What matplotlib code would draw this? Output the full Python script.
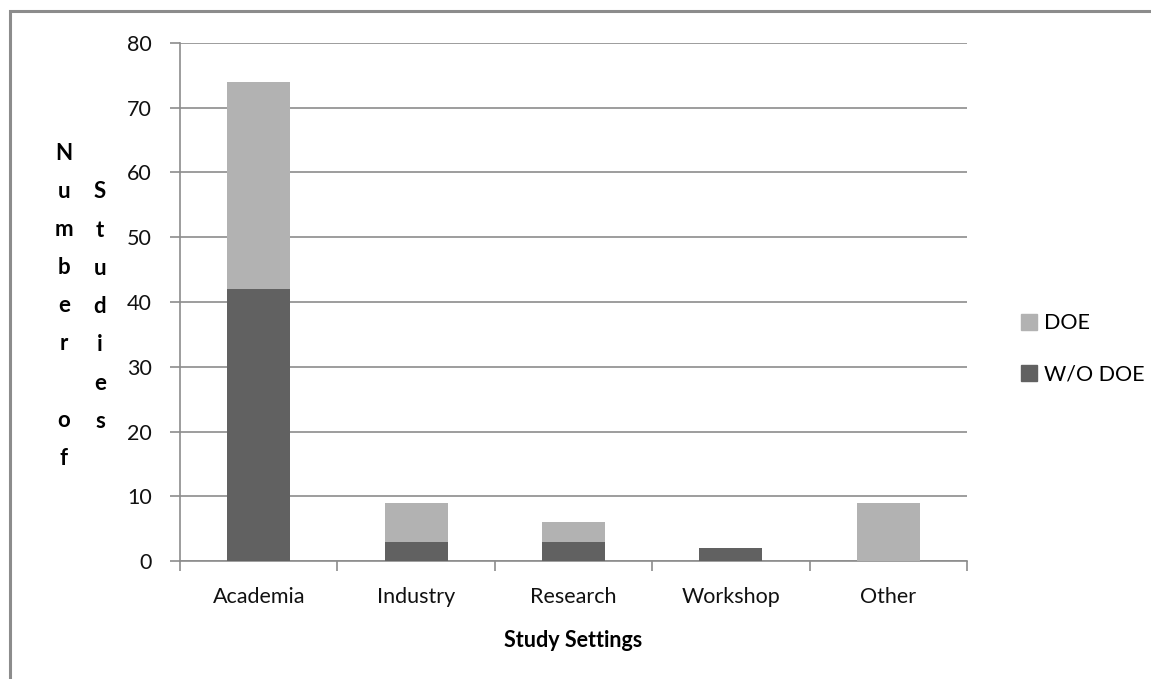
import matplotlib
matplotlib.use('Agg')
import matplotlib.pyplot as plt
import numpy as np
from matplotlib.patches import Patch, Rectangle

# Study settings data
categories = ['Academia', 'Industry', 'Research', 'Workshop', 'Other']
without_doe = [42, 3, 3, 2, 0]
with_doe = [32, 6, 3, 0, 9]

light = '#b2b2b2'
dark = '#616161'
grid_gray = '#8c8c8c'

plt.rcParams['font.family'] = ['Lato', 'DejaVu Sans']
plt.rcParams['font.size'] = 15.5

W, H = 1151, 679
fig = plt.figure(figsize=(W / 100, H / 100), dpi=100)
ax = fig.add_axes([180 / W, 1 - 561 / H, (967 - 180) / W, (561 - 43) / H])

x = np.arange(len(categories))
ax.bar(x, without_doe, width=0.4, color=dark, zorder=3)
ax.bar(x, with_doe, width=0.4, bottom=without_doe, color=light, zorder=3)

ax.set_xlim(-0.5, len(categories) - 0.5)
ax.set_ylim(0, 80)
ax.set_yticks(np.arange(0, 81, 10))
ax.yaxis.grid(True, color=grid_gray, linewidth=1.2, zorder=0)

# category labels centred, tick marks on the boundaries
ax.set_xticks(x)
ax.set_xticklabels(categories)
ax.set_xticks(np.arange(-0.5, len(categories)), minor=True)
ax.tick_params(axis='x', which='major', length=0, pad=19, colors='#111111')
ax.tick_params(axis='x', which='minor', length=7.2, width=1.2, color=grid_gray)
ax.tick_params(axis='y', length=7.2, width=1.2, color=grid_gray, pad=13, labelcolor='#111111')

for side in ['top', 'right']:
    ax.spines[side].set_visible(False)
for side in ['left', 'bottom']:
    ax.spines[side].set_color(grid_gray)
    ax.spines[side].set_linewidth(1.2)

ax.set_xlabel('Study Settings', fontweight='bold', labelpad=16)

# y label written as stacked letters in two columns
col1 = 'Number of'
col2 = 'Studies'
step = 38.2
for i, ch in enumerate(col1):
    if ch != ' ':
        fig.text(64 / W, 1 - (153 + i * step) / H, ch, ha='center', va='center',
                 fontweight='bold', fontsize=16)
for i, ch in enumerate(col2):
    fig.text(100 / W, 1 - (192 + i * step) / H, ch, ha='center', va='center',
             fontweight='bold', fontsize=16)

handles = [Patch(color=light, label='DOE'), Patch(color=dark, label='W/O DOE')]
fig.legend(handles=handles, loc='center left', bbox_to_anchor=(1010 / W, 1 - 349 / H),
           frameon=False, borderpad=0, handlelength=0.75, handleheight=0.75,
           handletextpad=0.35, labelspacing=1.45)

# outer chart border, running off the right and bottom edges
fig.add_artist(Rectangle((10 / W, -0.2), 1.5, 1.2 - 11 / H, transform=fig.transFigure,
                         fill=False, edgecolor='#8c8c8c', linewidth=2.2))

fig.savefig('out.png', dpi=100)
